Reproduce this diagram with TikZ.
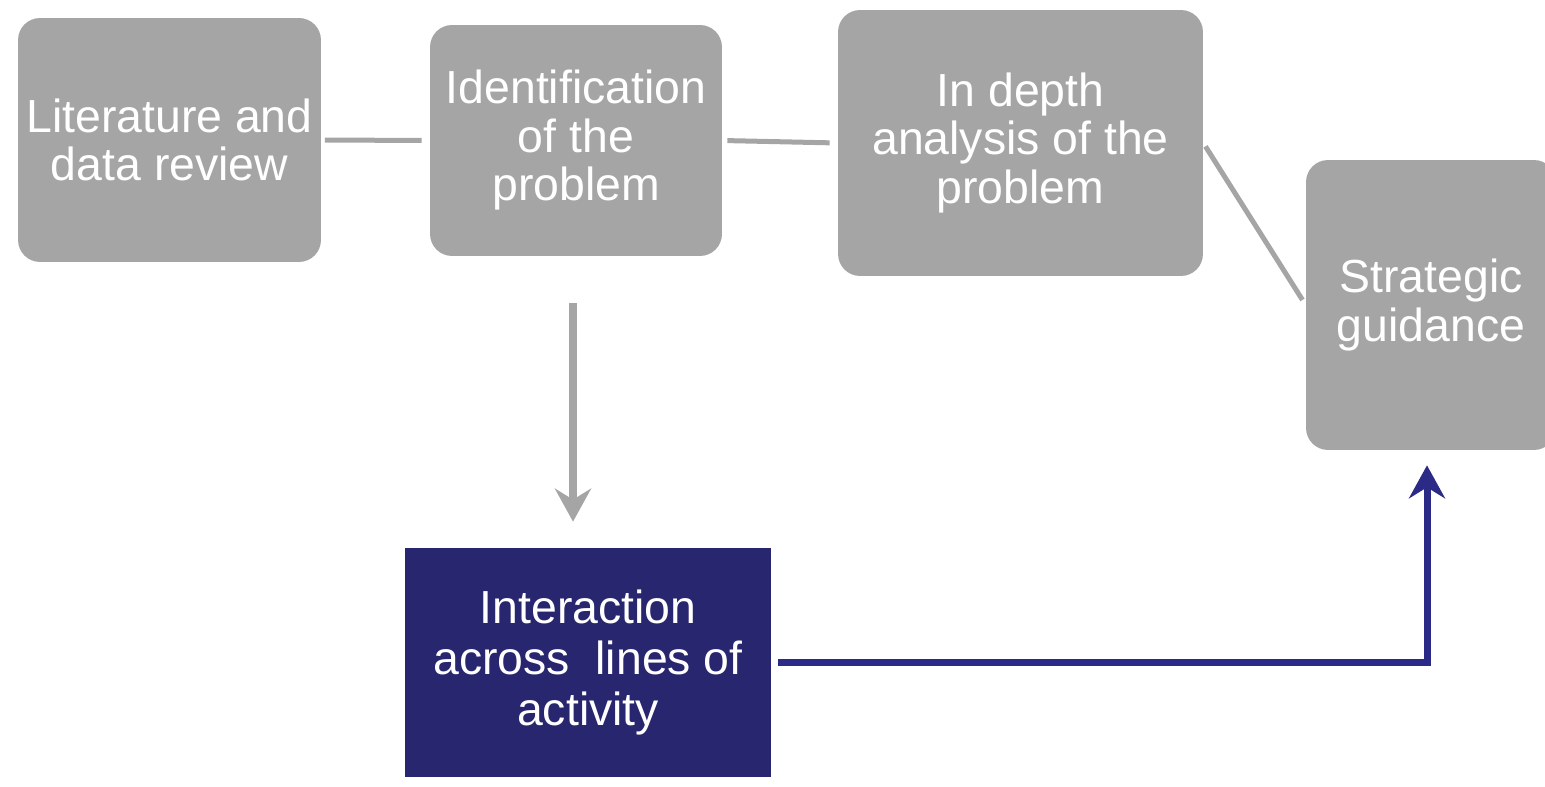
\documentclass[tikz,border=0pt]{standalone}
\usepackage{fontspec}
\setmainfont{Liberation Sans}
\usetikzlibrary{arrows.meta,calc}
\definecolor{cGray}{RGB}{165,165,165}
\definecolor{cNavy}{RGB}{40,38,110}
\definecolor{cNavyLine}{RGB}{43,43,135}
\begin{document}
\begin{tikzpicture}[x=0.02cm,y=-0.02cm,
  txt/.style={font=\fontsize{26.4}{27.6}\selectfont},
  graybox/.style={rectangle, rounded corners=0.44cm, fill=cGray, text=white, align=center, inner sep=0pt, txt},
  navybox/.style={rectangle, fill=cNavy, text=white, align=center, inner sep=0pt, font=\fontsize{26.4}{29}\selectfont},
  link/.style={draw=cGray, line width=0.1cm},
  grayarrow/.style={draw=cGray, line width=0.16cm, -{Stealth[length=0.66cm, width=0.72cm, inset=0.22cm]}},
  navyarrow/.style={draw=cNavyLine, line width=0.14cm, -{Stealth[length=0.66cm, width=0.72cm, inset=0.22cm]}}]
\useasboundingbox (0,0) rectangle (1545,787);
\node[graybox, minimum width=6.06cm, minimum height=4.88cm] (lit) at (169.5,140) {Literature and\\data review};
\node[graybox, minimum width=5.84cm, minimum height=4.62cm] (ident) at (576,140.5) {Identification\\of the\\problem};
\node[graybox, minimum width=7.3cm, minimum height=5.32cm] (depth) at (1020.5,143) {In depth\\analysis of the\\problem};
\node[graybox, minimum width=5cm, minimum height=5.8cm] (strat) at (1431,305) {Strategic\\guidance};
\node[navybox, minimum width=7.32cm, minimum height=4.58cm] (inter) at (588,662.5) {Interaction\\across\ \ lines of\\activity};
\coordinate (sb) at ([xshift=-0.08cm]strat.south);
\draw[link, shorten <=0.07cm, shorten >=0.16cm] (lit) -- (ident);
\draw[link, shorten <=0.1cm, shorten >=0.16cm] (ident.east) -- (depth.west);
\draw[link, shorten <=0.08cm, shorten >=0.12cm] (depth.east) -- (strat.west);
\draw[grayarrow, shorten <=0.94cm, shorten >=0.52cm] ([xshift=-0.06cm]ident.south) -- ([xshift=-0.06cm]ident.south |- inter.north);
\draw[navyarrow, shorten <=0.14cm, shorten >=0.3cm] (inter.east) -| (sb);
\end{tikzpicture}
\end{document}
